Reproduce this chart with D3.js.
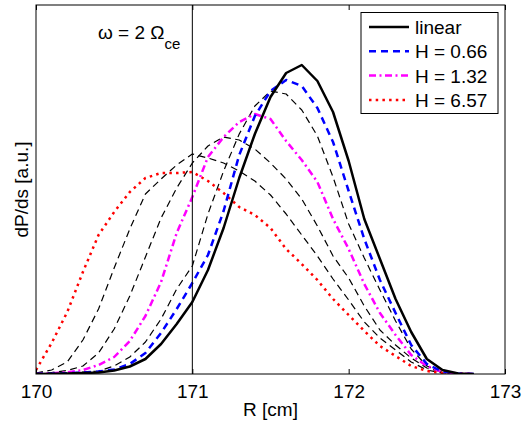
<!DOCTYPE html>
<html>
<head>
<meta charset="utf-8">
<script src="https://cdn.jsdelivr.net/npm/d3@7"></script>
<style>
  body { margin: 0; background: #fff; }
  text { font-family: "Liberation Sans", Arial, sans-serif; fill: #000; }
</style>
</head>
<body>
<div id="viz"></div>
<script>
"use strict";
// R positions [cm]
const R = [170.0, 170.1, 170.2, 170.3, 170.4, 170.5, 170.6, 170.7, 170.8, 170.9,
           171.0, 171.1, 171.2, 171.3, 171.4, 171.5, 171.6, 171.7, 171.8, 171.9,
           172.0, 172.1, 172.2, 172.3, 172.4, 172.5, 172.6, 172.7, 172.8]
// dP/ds, arbitrary units
const linear = [0, 0.2, 0.5, 1, 1.5, 3.5, 7.5, 15, 30, 50, 72, 104, 146, 196, 240, 277, 301, 309, 293, 262, 213, 155, 115, 75, 42, 15, 4, 0.5, 0]
const h066 = [0, 0.3, 0.8, 1.5, 2.5, 4.5, 10, 21, 41, 65, 91, 119, 163, 219, 258, 283, 294, 288, 266, 232, 183, 135, 94, 61, 29, 10, 2.5, 0.5, 0]
const hMid1 = [0, 0.5, 1, 2, 3, 8, 17, 32, 55, 85, 108, 160, 203, 240, 268, 283, 280, 264, 238, 197, 150, 116, 84, 53, 25, 8, 2, 0.5, 0]
const h132 = [0, 0.8, 1.7, 4, 9, 17, 33, 58, 92, 141, 177, 217, 237, 252, 260, 255, 233, 214, 192, 155, 125, 90, 61, 39, 19, 8, 2, 0.5, 0]
const hMid2 = [0.5, 1.5, 3.5, 8, 21, 45, 78, 117, 156, 186, 211, 228, 237, 234, 225, 211, 195, 175, 148, 118, 96, 68, 44, 29, 16, 6, 2, 0.5, 0]
const hMid3 = [1, 4, 12, 34, 65, 106, 145, 180, 195, 209, 220, 216, 211, 203, 193, 179, 160, 139, 118, 95, 74, 52, 36, 24, 12, 4, 1, 0.3, 0]
const h657 = [4, 31, 62, 102, 139, 162, 182, 196, 201, 201, 202, 193, 181, 167, 159, 146, 125, 110, 94, 75, 59, 43, 28, 18, 8, 3, 1, 0.3, 0]
const xTicks = [170, 171, 172, 173]
const legendLabels = ['linear', 'H = 0.66', 'H = 1.32', 'H = 6.57']

;(function(){
  let m = {width: 523, height: 423, left: 36, right: 505, top: 5, bottom: 374}

  const svg = d3.select('#viz').append('svg')
      .attr('width', m.width)
      .attr('height', m.height)

  let x = d3.scaleLinear().domain([170, 173]).range([m.left, m.right])
  let y = d3.scaleLinear().domain([0, 369]).range([m.bottom, m.top])

  // line styles
  let series = [
    {vals: hMid3, color: '#000', w: 1.2, dash: '7,4.5'},
    {vals: hMid2, color: '#000', w: 1.2, dash: '7,4.5'},
    {vals: hMid1, color: '#000', w: 1.2, dash: '7,4.5'},
    {vals: h657, color: '#ff0000', w: 2.5, dash: '2.5,4.2', key: 3},
    {vals: h132, color: '#ff00ff', w: 2.5, dash: '7,3.5,2,3.5', key: 2},
    {vals: h066, color: '#0000ff', w: 2.5, dash: '7,5', key: 1},
    {vals: linear, color: '#000', w: 2.5, dash: null, key: 0}
  ]

  svg.append('clipPath').attr('id', 'clip')
    .append('rect')
      .attr('x', m.left).attr('y', m.top)
      .attr('width', m.right - m.left).attr('height', m.bottom - m.top)

  let line = d3.line()
      .x((d, i) => x(R[i]))
      .y(d => y(d))

  const plot = svg.append('g').attr('clip-path', 'url(#clip)')
  plot.selectAll('path')
    .data(series)
    .enter()
    .append('path')
      .attr('d', d => line(d.vals))
      .attr('fill', 'none')
      .attr('stroke', d => d.color)
      .attr('stroke-width', d => d.w)
      .attr('stroke-dasharray', d => d.dash)
      .attr('stroke-linejoin', 'round')

  // resonance line
  svg.append('line')
      .attr('x1', x(171)).attr('x2', x(171))
      .attr('y1', m.top).attr('y2', m.bottom)
      .attr('stroke', '#000').attr('stroke-width', 1)

  // axes box
  svg.append('rect')
      .attr('x', m.left).attr('y', m.top)
      .attr('width', m.right - m.left).attr('height', m.bottom - m.top)
      .attr('fill', 'none').attr('stroke', '#000').attr('stroke-width', 1)

  let xAxis = svg.append('g')
      .attr('transform', 'translate(0,' + m.bottom + ')')
      .call(d3.axisTop(x).tickValues(xTicks).tickSize(5).tickFormat(d3.format('d')))
  xAxis.select('.domain').remove()
  xAxis.selectAll('text')
      .attr('y', 24)
      .attr('dy', 0)
      .attr('font-size', '19px')
      .attr('font-family', '"Liberation Sans", Arial, sans-serif')
  let xTop = svg.append('g')
      .attr('transform', 'translate(0,' + m.top + ')')
      .call(d3.axisBottom(x).tickValues(xTicks).tickSize(5).tickFormat(''))
  xTop.select('.domain').remove()

  svg.append('text')
      .attr('x', (m.left + m.right) / 2)
      .attr('y', 416)
      .attr('text-anchor', 'middle')
      .attr('font-size', '19px')
      .text('R [cm]')

  svg.append('text')
      .attr('transform', 'translate(28,' + (m.top + m.bottom) / 2 + ')rotate(-90)')
      .attr('text-anchor', 'middle')
      .attr('font-size', '19px')
      .text('dP/ds [a.u.]')

  let note = svg.append('text')
      .attr('x', 98)
      .attr('y', 39)
      .attr('font-size', '19px')
  note.append('tspan').text('ω = 2 Ω')
  note.append('tspan').attr('dy', 10).attr('font-size', '15px').text('ce')

  // legend
  let lg = svg.append('g')
  lg.append('rect')
      .attr('x', 361).attr('y', 12.5)
      .attr('width', 137).attr('height', 101)
      .attr('fill', '#fff').attr('stroke', '#000').attr('stroke-width', 1)
  let keys = series.filter(d => d.key !== undefined).sort((a, b) => a.key - b.key)
  let rows = lg.selectAll('.row')
    .data(keys)
    .enter()
    .append('g')
      .attr('transform', (d, i) => 'translate(0,' + (34 + i * 24.3) + ')')
  rows.append('line')
      .attr('x1', 369).attr('x2', 409)
      .attr('y1', -7).attr('y2', -7)
      .attr('stroke', d => d.color)
      .attr('stroke-width', d => d.w)
      .attr('stroke-dasharray', d => d.dash)
  rows.append('text')
      .attr('x', 415)
      .attr('font-size', '19px')
      .text(d => legendLabels[d.key])
})();
</script>
</body>
</html>
